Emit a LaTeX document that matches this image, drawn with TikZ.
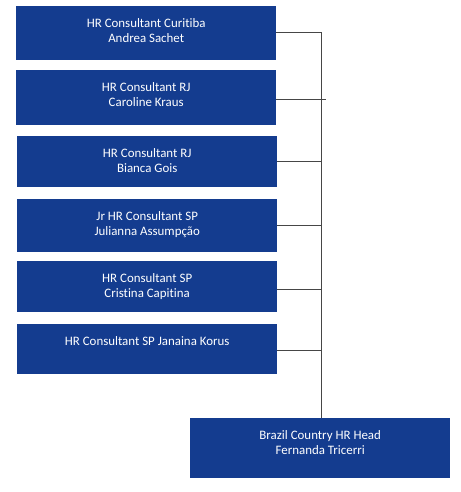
\documentclass[tikz,border=0pt]{standalone}
\usepackage{fontspec}
\setmainfont[Ligatures=NoCommon]{Carlito}
\definecolor{boxblue}{RGB}{20,60,143}
\definecolor{linegray}{RGB}{70,70,70}
\begin{document}
\begin{tikzpicture}[x=1pt,y=-1pt,
  box/.style={fill=boxblue, draw=none, minimum width=260pt, inner sep=0pt, anchor=north west},
  lbl/.style={text=white, font=\fontsize{12.9}{15.5}\selectfont, align=center, anchor=north, inner sep=0pt},
  conn/.style={draw=linegray, line width=1pt}]
\useasboundingbox (0,0) rectangle (460,492);
\fill[white] (0,0) rectangle (460,492);
% boxes
\node[box, minimum height=54pt] (b1) at (16,6) {};
\node[box, minimum height=55pt] (b2) at (16,70) {};
\node[box, minimum height=51pt] (b3) at (17,136) {};
\node[box, minimum height=53pt] (b4) at (17,199) {};
\node[box, minimum height=51pt] (b5) at (17,261) {};
\node[box, minimum height=50pt] (b6) at (17,324) {};
\node[box, minimum height=60pt] (hd) at (190,418) {};
% labels
\node[lbl] (t1) at ([yshift=-12pt]b1.north) {HR Consultant Curitiba\\Andrea Sachet};
\node[lbl] (t2) at ([yshift=-12pt]b2.north) {HR Consultant RJ\\Caroline Kraus};
\node[lbl] (t3) at ([yshift=-12pt]b3.north) {HR Consultant RJ\\Bianca Gois};
\node[lbl] (t4) at ([yshift=-12pt]b4.north) {Jr HR Consultant SP\\Julianna Assumpção};
\node[lbl] (t5) at ([yshift=-12pt]b5.north) {HR Consultant SP\\Cristina Capitina};
\node[lbl] (t6) at ([yshift=-12pt]b6.north) {HR Consultant SP Janaina Korus};
\node[lbl] (th) at ([yshift=-12pt]hd.north) {Brazil Country HR Head\\Fernanda Tricerri};
% connectors
\coordinate (top) at (321,33);
\coordinate (j2) at (326,100);
\coordinate (hdin) at (321,418);
\draw[conn] (b1.east |- top) -- (top) -- (hdin);
\draw[conn] (b2.east |- j2) -- (j2);
\draw[conn] (b3.east |- 0,161) -- (321,161);
\draw[conn] (b4.east |- 0,225) -- (321,225);
\draw[conn] (b5.east |- 0,289) -- (321,289);
\draw[conn] (b6.east |- 0,350) -- (321,350);
\end{tikzpicture}
\end{document}
